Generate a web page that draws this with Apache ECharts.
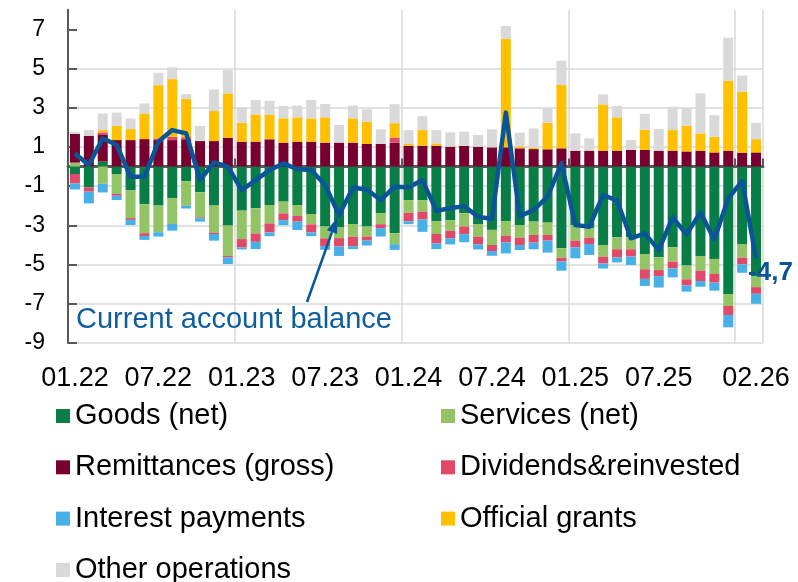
<!DOCTYPE html>
<html><head><meta charset="utf-8">
<script src="https://cdn.jsdelivr.net/npm/echarts@6/dist/echarts.min.js"></script>
<style>html,body{margin:0;padding:0;background:#fff}#c{width:798px;height:582px}</style>
</head><body><div id="c"></div>
<script>
const categories = ['01.22','02.22','03.22','04.22','05.22','06.22','07.22','08.22','09.22','10.22','11.22','12.22',
'01.23','02.23','03.23','04.23','05.23','06.23','07.23','08.23','09.23','10.23','11.23','12.23',
'01.24','02.24','03.24','04.24','05.24','06.24','07.24','08.24','09.24','10.24','11.24','12.24',
'01.25','02.25','03.25','04.25','05.25','06.25','07.25','08.25','09.25','10.25','11.25','12.25',
'01.26','02.26'];
const goods = [-0.38,-1.06,0.25,-0.38,-1.22,-1.92,-1.99,-1.62,-0.74,-1.31,-1.99,-3.01,
-2.25,-2.13,-1.96,-1.79,-1.96,-2.42,-3.06,-3.11,-2.93,-3.06,-2.38,-3.4,
-1.71,-1.71,-2.78,-2.73,-2.38,-2.93,-3.23,-2.78,-2.98,-2.81,-2.86,-4.17,
-2.98,-3.15,-4.0,-3.61,-3.61,-4.46,-4.63,-4.12,-5.05,-4.56,-4.71,-6.5,
-3.95,-5.61];
const services = [0.2,0,-0.88,-1.02,-1.41,-1.48,-1.36,-1.31,-1.26,-1.28,-1.38,-1.55,
-1.45,-1.28,-0.94,-0.6,-0.56,-0.53,-0.6,-0.54,-0.65,-0.51,-0.56,-0.56,
-0.65,-0.6,-0.66,-0.54,-0.68,-0.65,-0.77,-0.75,-0.65,-0.68,-0.63,-0.48,
-0.8,-0.48,-0.6,-0.61,-0.61,-0.78,-0.65,-0.73,-0.7,-0.75,-0.77,-0.61,
-0.7,-0.54];
const remittances = [1.46,1.57,1.39,1.35,1.35,1.4,1.35,1.35,1.39,1.3,1.3,1.47,
1.27,1.27,1.39,1.22,1.27,1.27,1.22,1.22,1.22,1.15,1.15,1.22,
1.06,1.06,1.06,1.01,1.05,1.01,0.98,0.98,0.93,0.89,0.88,0.93,
0.81,0.81,0.81,0.81,0.85,0.85,0.81,0.81,0.77,0.81,0.72,0.81,
0.71,0.72];
const dividends = [-0.48,-0.22,0.1,-0.09,-0.09,-0.14,0.08,0.17,0.1,-0.05,-0.07,-0.07,
-0.43,-0.43,-0.46,-0.34,-0.29,-0.41,-0.39,-0.43,-0.48,-0.2,-0.2,0.26,
-0.43,-0.39,-0.48,-0.39,-0.39,-0.39,-0.31,-0.34,-0.37,-0.39,-0.29,-0.2,
-0.34,-0.32,-0.34,-0.41,-0.37,-0.49,-0.31,-0.34,-0.32,-0.53,-0.44,-0.46,
-0.34,-0.34];
const interest = [-0.31,-0.6,-0.44,-0.22,-0.26,-0.2,-0.22,-0.34,-0.14,-0.17,-0.34,-0.34,
-0.1,-0.37,-0.19,-0.26,-0.43,-0.19,-0.2,-0.48,-0.15,-0.26,-0.43,-0.29,
-0.15,-0.63,-0.29,-0.31,-0.41,-0.26,-0.24,-0.56,-0.26,-0.34,-0.61,-0.46,
-0.56,-0.56,-0.26,-0.26,-0.43,-0.36,-0.58,-0.46,-0.31,-0.29,-0.41,-0.63,
-0.43,-0.51];
const grants = [0,0,0.12,0.72,0.56,1.31,2.72,2.94,1.96,0,1.53,2.26,
0.97,1.39,1.24,1.24,1.24,1.19,1.29,0,1.24,1.14,0,0.73,
0.09,0.8,0.12,0,0,0,0,5.53,0.09,0.07,1.36,3.23,
0,0,2.36,1.7,0,1.02,0,1.05,1.31,0.88,0.8,3.57,
3.11,0.68];
const other = [0.12,0.29,0.85,0.68,0.54,0.51,0.63,0.6,0.24,0.77,1.1,1.19,
0.78,0.73,0.73,0.63,0.6,0.94,0.68,0.9,0.65,0.63,0.75,0.97,
0.71,0.71,0.68,0.73,0.73,0.6,0.92,0.66,0.71,0.99,0.73,1.24,
0.88,0.63,0.51,0.58,0.51,0.82,1.1,1.19,0.9,2.04,1.1,2.19,
0.82,0.83];
const balance = [0.67,0.08,1.44,1.1,-0.52,-0.52,1.27,1.86,1.69,-0.69,0.21,0.0,
-1.2,-0.69,-0.18,0.16,-0.14,-0.18,-0.94,-2.47,-1.08,-1.17,-1.71,-1.03,
-1.06,-0.69,-2.25,-2.13,-2.02,-2.56,-2.68,2.75,-2.53,-2.22,-1.54,0.16,
-2.98,-3.07,-1.45,-1.74,-3.66,-3.41,-4.26,-2.59,-3.46,-2.34,-3.72,-1.62,
-0.74,-4.7];
const yTicks = [-9,-7,-5,-3,-1,1,3,5,7];
const xTickLabels = ['01.22','07.22','01.23','07.23','01.24','07.24','01.25','07.25','02.26'];

const FONT = "'Liberation Sans', Arial, sans-serif";
const barSeries = [
  ['Goods (net)', goods, '#087D46'],
  ['Services (net)', services, '#92C466'],
  ['Remittances (gross)', remittances, '#780030'],
  ['Dividends&reinvested', dividends, '#E04A68'],
  ['Interest payments', interest, '#48B0E6'],
  ['Official grants', grants, '#FFC000'],
  ['Other operations', other, '#D9D9D9']
].map(([name, data, color]) => ({
  name, type: 'bar', stack: 'ca', data, barWidth: '72%',
  itemStyle: { color }, xAxisIndex: 0, yAxisIndex: 0
}));

const chart = echarts.init(document.getElementById('c'), null, { renderer: 'canvas' });
const legendText = { fontFamily: FONT, fontSize: 29, color: '#000', lineHeight: 30 };
const legendBase = { orient: 'vertical', itemWidth: 14, itemHeight: 14, itemGap: 21.3,
  icon: 'rect', textStyle: legendText, selectedMode: false, padding: 0, height: 300 };

// annotation arrow geometry (pixels)
const ax1 = 307, ay1 = 302, ax2 = 337, ay2 = 218;
const dx = ax2 - ax1, dy = ay2 - ay1, len = Math.sqrt(dx*dx + dy*dy);
const ux = dx/len, uy = dy/len, hl = 15, hw = 5.5;
const bx = ax2 - ux*hl, by = ay2 - uy*hl;

chart.setOption({
  animation: false,
  backgroundColor: '#fff',
  grid: { left: 68, right: 35, top: 9.7, bottom: 239, containLabel: false },
  legend: [
    Object.assign({ data: ['Goods (net)','Remittances (gross)','Interest payments'], left: 56, top: 401 }, legendBase),
    Object.assign({ data: ['Other operations'], left: 56, top: 555 }, legendBase),
    Object.assign({ data: ['Services (net)','Dividends&reinvested','Official grants'], left: 441, top: 401 }, legendBase)
  ],
  xAxis: [
    { type: 'category', data: categories, position: 'bottom',
      axisLine: { show: false, onZero: false }, axisTick: { show: false },
      axisLabel: { interval: (i, v) => xTickLabels.includes(v), margin: 22,
        fontFamily: FONT, fontSize: 27, color: '#000' },
      splitLine: { show: true, interval: (i) => i % 12 === 0 && i > 0,
        lineStyle: { color: '#D9D9D9', width: 1.5 } } },
    { type: 'category', data: categories, position: 'bottom',
      axisLine: { show: true, onZero: true, lineStyle: { color: '#595959', width: 3 } },
      axisTick: { show: true, inside: true, length: 8, interval: (i) => i % 12 === 0 && i > 0,
        lineStyle: { color: '#595959', width: 2 } },
      axisLabel: { show: false }, splitLine: { show: false } }
  ],
  yAxis: {
    type: 'value', min: -9, max: 8, interval: 2,
    axisLine: { show: true, lineStyle: { color: '#595959', width: 2 } },
    axisTick: { show: true, inside: true, length: 9, customValues: yTicks,
      lineStyle: { color: '#595959', width: 2 } },
    axisLabel: { customValues: yTicks, margin: 23, fontFamily: FONT, fontSize: 23, color: '#000' },
    splitLine: { show: true, showMaxLine: false, lineStyle: { color: '#D9D9D9', width: 1.5 } }
  },
  series: barSeries.concat([{
    name: 'Current account balance', type: 'line', data: balance,
    xAxisIndex: 0, yAxisIndex: 0, showSymbol: false, symbol: 'none', z: 5,
    lineStyle: { color: '#0A5597', width: 4.5, join: 'round' }, itemStyle: { color: '#0A5597' },
    endLabel: { show: true, formatter: (p) => String(p.value).replace('.', ','),
      color: '#0A5597', fontFamily: FONT, fontWeight: 'bold', fontSize: 26, offset: [-16, 14] }
  }]),
  graphic: [
    { type: 'line', shape: { x1: ax1, y1: ay1, x2: bx, y2: by }, style: { stroke: '#0A5597', lineWidth: 2.5 }, z: 10 },
    { type: 'polygon', shape: { points: [[ax2, ay2], [bx - uy*hw, by + ux*hw], [bx + uy*hw, by - ux*hw]] },
      style: { fill: '#0A5597' }, z: 10 },
    { type: 'text', x: 76, y: 320, style: { text: 'Current account balance', font: "29px 'Liberation Sans', Arial, sans-serif",
      fill: '#0F5D9C', textVerticalAlign: 'middle', verticalAlign: 'middle' }, z: 10 }
  ]
});
</script></body></html>
